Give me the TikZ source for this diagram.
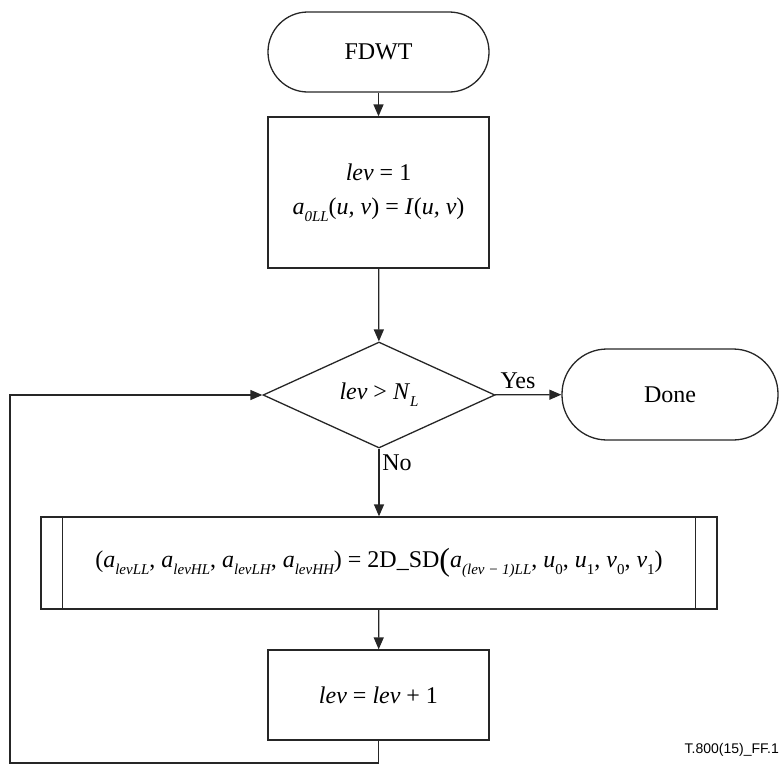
\documentclass[tikz,border=0pt]{standalone}
\usepackage{fontspec}
\setmainfont{Liberation Serif}
\newfontfamily\labelfont{Liberation Sans}
\usetikzlibrary{arrows.meta,shapes.geometric}
\newcommand\sbs[1]{\raisebox{-0.3em}{\fontsize{15}{15}\selectfont\itshape #1}}
\newcommand\sbn[1]{\raisebox{-0.3em}{\fontsize{15}{15}\selectfont #1}}
\newcommand\bigp[1]{\raisebox{-0.12em}{\fontsize{32}{32}\selectfont #1}}
\tikzset{
  every node/.style={font=\fontsize{24}{34}\selectfont, inner sep=0pt},
  ln/.style={line width=1.3pt, draw=black!85},
  arr/.style={ln, -{Triangle[length=12pt,width=10pt]}},
  term/.style={ln, rectangle, rounded corners=39.8pt},
  procbox/.style={ln, rectangle},
  decision/.style={ln, diamond},
}
\begin{document}
\begin{tikzpicture}[x=1pt,y=-1pt]
\useasboundingbox (0,0) rectangle (783,769);
\node[term, minimum width=221pt, minimum height=80pt] (start) at (378.5,52) {FDWT};
\node[procbox, minimum width=221pt, minimum height=151pt, align=center] (init) at (378.5,192.5)
  {\textit{lev} = 1\\ \textit{a}\sbs{0LL}(\textit{u, v}) = \textit{I}(\textit{u, v})};
\node[decision, minimum width=232pt, minimum height=106pt] (test) at (379,395)
  {\textit{lev} > \textit{N}\sbs{L}};
\node[term, minimum width=216pt, minimum height=91pt, rounded corners=45pt] (done) at (670,394.5) {Done};
\node[procbox, minimum width=676pt, minimum height=92pt] (sd) at (379,563)
  {(\textit{a}\sbs{levLL}, \textit{a}\sbs{levHL}, \textit{a}\sbs{levLH}, \textit{a}\sbs{levHH}) = 2D\_SD\bigp{(}\textit{a}\sbs{(lev − 1)LL}, \textit{u}\sbn{0}, \textit{u}\sbn{1}, \textit{v}\sbn{0}, \textit{v}\sbn{1})};
\draw[ln] ([xshift=22pt]sd.north west) -- ([xshift=22pt]sd.south west);
\draw[ln] ([xshift=-22pt]sd.north east) -- ([xshift=-22pt]sd.south east);
\node[procbox, minimum width=221pt, minimum height=90pt] (inc) at (378.5,695)
  {\textit{lev} = \textit{lev} + 1};
\node (yes) at (518,381) {Yes};
\node (no) at (397,463) {No};
\node[font=\fontsize{14}{14}\selectfont\labelfont, anchor=east] (fig) at (779,750) {T.800(15)\_FF.1};
\coordinate (c1) at (378.5,763);
\coordinate (c2) at (10,763);
\coordinate (c3) at (10,395);
\draw[arr] (start) -- (init);
\draw[arr] (init) -- (test);
\draw[arr] (test) -- (done);
\draw[arr] (test) -- (sd);
\draw[arr] (sd) -- (inc);
\draw[arr] (inc.south) -- (c1) -- (c2) -- (c3) -- (test.west);
\end{tikzpicture}
\end{document}
